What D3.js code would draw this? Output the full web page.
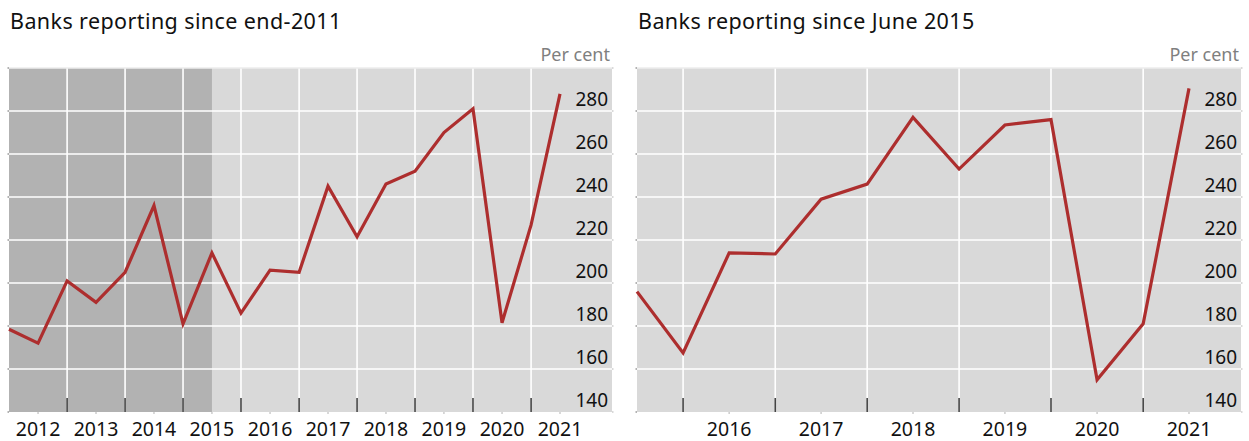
<!DOCTYPE html>
<html>
<head>
<meta charset="utf-8">
<script src="https://cdn.jsdelivr.net/npm/d3@7"></script>
<style>
	body { margin: 0; background: #fff; }
	svg { display: block; font-family: "Noto Sans", "Open Sans", sans-serif; }
</style>
</head>
<body>
<svg id="chart" width="1249" height="441"></svg>
<script>
// half-yearly observations, per cent
const leftDates = ["2011-12","2012-06","2012-12","2013-06","2013-12","2014-06","2014-12","2015-06","2015-12","2016-06",
	"2016-12","2017-06","2017-12","2018-06","2018-12","2019-06","2019-12","2020-06","2020-12","2021-06"];
const leftValues = [178.5, 172, 201, 191, 205, 236, 181, 214, 186, 206,
	205, 245, 221.5, 246, 252, 270, 281, 181.5, 227, 288];

const rightDates = ["2015-06","2015-12","2016-06","2016-12","2017-06","2017-12","2018-06","2018-12","2019-06","2019-12",
	"2020-06","2020-12","2021-06"];
const rightValues = [196, 167.5, 214, 213.5, 239, 246, 277, 253, 273.5, 276, 155, 181, 290.5];

const leftYears = ["2012","2013","2014","2015","2016","2017","2018","2019","2020","2021"];
const rightYears = ["2016","2017","2018","2019","2020","2021"];

const yTicks = [140, 160, 180, 200, 220, 240, 260, 280];
const yDomain = [140, 300];

const leftTitle = "Banks reporting since end-2011";
const rightTitle = "Banks reporting since June 2015";
const shadeUntil = "2015-06";

const parseMonth = d3.timeParse("%Y-%m");
const svg = d3.select("#chart");

function drawPanel(opts) {
	const top = 68, bottom = 412;
	const g = svg.append("g");

	const x = d3.scaleTime()
		.domain(d3.extent(opts.dates, parseMonth))
		.range([opts.left, opts.right - 52]);
	const y = d3.scaleLinear().domain(yDomain).range([bottom, top]);

	// background
	g.append("rect")
		.attr("x", opts.left).attr("y", top)
		.attr("width", opts.right - opts.left).attr("height", bottom - top)
		.attr("fill", "#d9d9d9");

	if (opts.shade) {
		g.append("rect")
			.attr("x", opts.left).attr("y", top)
			.attr("width", x(parseMonth(opts.shade)) - opts.left).attr("height", bottom - top)
			.attr("fill", "#b2b2b2");
	}

	// year-end gridlines
	const yearEnds = opts.dates.filter(d => d.endsWith("-12")).map(parseMonth)
		.filter(d => x(d) > opts.left + 2);

	g.selectAll(".vgrid").data(yearEnds).join("line")
		.attr("x1", d => x(d)).attr("x2", d => x(d))
		.attr("y1", top).attr("y2", bottom)
		.attr("stroke", "#fff").attr("stroke-width", 1.6);

	const hLines = d3.range(160, 301, 20);
	g.selectAll(".hgrid").data(hLines).join("line")
		.attr("x1", opts.left).attr("x2", opts.right)
		.attr("y1", d => y(d)).attr("y2", d => y(d))
		.attr("stroke", d => d == 300 ? "#ececec" : "#fff").attr("stroke-width", 1.6);

	// small ticks on the sides
	g.selectAll(".ltick").data(hLines.concat([140])).join("line")
		.attr("x1", opts.left - 1.5).attr("x2", opts.left)
		.attr("y1", d => y(d)).attr("y2", d => y(d))
		.attr("stroke", "#999").attr("stroke-width", 1.5);
	g.selectAll(".rtick").data(hLines.concat([140])).join("line")
		.attr("x1", opts.right).attr("x2", opts.right + 1.5)
		.attr("y1", d => y(d)).attr("y2", d => y(d))
		.attr("stroke", "#ccc").attr("stroke-width", 1.5);

	// dark year-end ticks
	g.selectAll(".xtick").data(yearEnds).join("line")
		.attr("x1", d => x(d)).attr("x2", d => x(d))
		.attr("y1", bottom - 14).attr("y2", bottom)
		.attr("stroke", "#444").attr("stroke-width", 1.6);

	// mid-year label ticks
	const mids = opts.years.map(yr => parseMonth(yr + "-06"));
	g.selectAll(".mtick").data(mids).join("line")
		.attr("x1", d => x(d)).attr("x2", d => x(d))
		.attr("y1", bottom).attr("y2", bottom + 2)
		.attr("stroke", "#ccc").attr("stroke-width", 1.5);

	g.selectAll(".xlab").data(opts.years).join("text")
		.attr("x", d => x(parseMonth(d + "-06")))
		.attr("y", 436)
		.attr("text-anchor", "middle")
		.attr("font-size", "19.5px")
		.attr("fill", "#111")
		.text(d => d);

	g.selectAll(".ylab").data(yTicks).join("text")
		.attr("x", opts.right - 4)
		.attr("y", d => y(d) - 5.5)
		.attr("text-anchor", "end")
		.attr("font-size", "19px")
		.attr("fill", "#111")
		.text(d => d);

	g.append("text")
		.attr("x", opts.right - 2).attr("y", 61)
		.attr("text-anchor", "end")
		.attr("font-size", "18px")
		.attr("fill", "#7f7f7f")
		.text("Per cent");

	g.append("text")
		.attr("x", opts.left + 1).attr("y", 29)
		.attr("font-size", "21.5px")
		.attr("letter-spacing", "0.4px")
		.attr("fill", "#111")
		.text(opts.title);

	const line = d3.line()
		.x((d, i) => x(parseMonth(opts.dates[i])))
		.y(d => y(d));

	g.append("path")
		.datum(opts.values)
		.attr("d", line)
		.attr("fill", "none")
		.attr("stroke", "#ad2e2e")
		.attr("stroke-width", 3.2)
		.attr("stroke-linejoin", "miter");
}

drawPanel({ left: 9, right: 612, dates: leftDates, values: leftValues, years: leftYears, title: leftTitle, shade: shadeUntil });
drawPanel({ left: 637, right: 1241, dates: rightDates, values: rightValues, years: rightYears, title: rightTitle });
</script>
</body>
</html>
